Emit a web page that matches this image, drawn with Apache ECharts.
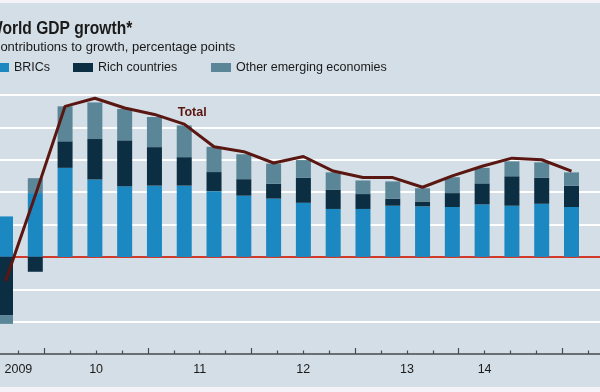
<!DOCTYPE html>
<html>
<head>
<meta charset="utf-8">
<script src="https://cdn.jsdelivr.net/npm/echarts@6/dist/echarts.min.js"></script>
<style>
html,body{margin:0;padding:0;background:#d4dee6;}
#chart{width:600px;height:392px;}
</style>
</head>
<body>
<div id="chart"></div>
<script>
// Quarterly periods as drawn
var categories = ['2009Q1','2009Q2','2009Q3','2009Q4','2010Q1','2010Q2','2010Q3','2010Q4',
  '2011Q1','2011Q2','2011Q3','2011Q4','2012Q1','2012Q2','2012Q3','2012Q4',
  '2013Q1','2013Q2','2013Q3','2013Q4'];
var brics = [1.25, 1.97, 2.75, 2.39, 2.18, 2.2, 2.2, 2.03, 1.89, 1.8, 1.67, 1.48, 1.48, 1.58, 1.56, 1.54, 1.62, 1.58, 1.64, 1.54];
var rich = [-1.81, -0.46, 0.82, 1.25, 1.42, 1.19, 0.88, 0.59, 0.51, 0.46, 0.77, 0.6, 0.46, 0.22, 0.15, 0.43, 0.65, 0.91, 0.8, 0.66];
var otherEm = [-0.26, 0.46, 1.08, 1.13, 0.97, 0.93, 0.98, 0.78, 0.77, 0.62, 0.55, 0.53, 0.42, 0.53, 0.41, 0.49, 0.48, 0.46, 0.48, 0.41];
var total = [-0.75, 1.9, 4.65, 4.9, 4.6, 4.4, 4.1, 3.4, 3.25, 2.9, 3.1, 2.65, 2.45, 2.45, 2.15, 2.5, 2.8, 3.05, 3.0, 2.65];
// Year axis: tick marks at year boundaries and quarters, labels at year centres
var yearTicks = [2010, 2011, 2012, 2013, 2014, 2015];
var quarterTicks = [2009.75, 2010.25, 2010.5, 2010.75, 2011.25, 2011.5, 2011.75, 2012.25, 2012.5, 2012.75,
  2013.25, 2013.5, 2013.75, 2014.25, 2014.5, 2014.75, 2015.25];
var yearLabelPos = [2009.75, 2010.5, 2011.5, 2012.5, 2013.5, 2014.25];
var yearLabelText = ['2009', '10', '11', '12', '13', '14'];

var SANS = '"Liberation Sans", Arial, sans-serif';
var cBrics = '#1b88c2', cRich = '#0c2e42', cOther = '#5b8697', cTotal = '#5a1611';
var BG = '#d4dee6';

var totalData = total.map(function (v, i) {
  if (i === 6) {
    return { value: v, symbol: 'circle', symbolSize: 1, itemStyle: { color: 'rgba(0,0,0,0)' },
      label: { show: true, formatter: 'Total', position: 'top', offset: [8, 0],
        color: cTotal, fontFamily: SANS, fontWeight: 'bold', fontSize: 12.5 } };
  }
  return v;
});

var chart = echarts.init(document.getElementById('chart'), null, { renderer: 'canvas' });
chart.setOption({
  backgroundColor: BG,
  animation: false,
  graphic: [
    { type: 'rect', left: 0, top: 0, shape: { width: 600, height: 3 }, style: { fill: '#f5f3f8' }, z: 100 },
    { type: 'rect', left: 0, top: 387, shape: { width: 600, height: 5 }, style: { fill: '#f5f3f8' }, z: 100 },
    { type: 'text', x: -12, y: 19, scaleX: 0.82, z: 100,
      style: { text: 'World GDP growth*', font: 'bold 19px "Liberation Sans", Arial, sans-serif', fill: '#1a1a1a', textVerticalAlign: 'top' } }
  ],
  title: [
    { text: 'Contributions to growth, percentage points', left: -9, top: 41, padding: 0,
      textStyle: { fontFamily: SANS, fontWeight: 'normal', fontSize: 13, color: '#1a1a1a' } }
  ],
  legend: [
    { data: ['BRICs'], left: -11, top: 61, padding: 0, itemWidth: 20, itemHeight: 9, itemGap: 0,
      icon: 'rect', textStyle: { fontFamily: SANS, fontSize: 12.5, color: '#1a1a1a' } },
    { data: ['Rich countries'], left: 73, top: 61, padding: 0, itemWidth: 20, itemHeight: 9, itemGap: 0,
      icon: 'rect', textStyle: { fontFamily: SANS, fontSize: 12.5, color: '#1a1a1a' } },
    { data: ['Other emerging economies'], left: 211, top: 61, padding: 0, itemWidth: 20, itemHeight: 9, itemGap: 0,
      icon: 'rect', textStyle: { fontFamily: SANS, fontSize: 12.5, color: '#1a1a1a' } }
  ],
  grid: [
    { left: 0, right: 0, top: 95, bottom: 38, containLabel: false },
    { left: 5.5, right: 28.5, top: 95, bottom: 38, containLabel: false }
  ],
  xAxis: [
    { type: 'value', gridIndex: 0, min: 2009.5724, max: 2015.3639, position: 'bottom', z: 10,
      axisLine: { show: true, onZero: false, lineStyle: { color: '#4a4a4a', width: 1.5 } },
      axisTick: { show: true, inside: true, length: 6, customValues: yearTicks, lineStyle: { color: '#4a4a4a', width: 1.2 } },
      axisLabel: { show: true, customValues: yearLabelPos, margin: 9, fontFamily: SANS, fontSize: 12.5, color: '#1a1a1a',
        formatter: function (v) { var i = yearLabelPos.indexOf(v); return i >= 0 ? yearLabelText[i] : ''; } },
      splitLine: { show: false } },
    { type: 'value', gridIndex: 0, min: 2009.5724, max: 2015.3639, position: 'bottom', z: 10,
      axisLine: { show: false, onZero: false },
      axisTick: { show: true, inside: true, length: 3.5, customValues: quarterTicks, lineStyle: { color: '#4a4a4a', width: 1.2 } },
      axisLabel: { show: false },
      splitLine: { show: false } },
    { type: 'category', gridIndex: 1, data: categories, boundaryGap: false, show: false }
  ],
  yAxis: [
    { type: 'value', gridIndex: 0, min: -3, max: 5, interval: 1,
      axisLine: { show: false }, axisTick: { show: false }, axisLabel: { show: false },
      splitLine: { show: true, lineStyle: { width: 2,
        color: [BG, '#ffffff', '#ffffff', '#d23a2a', '#ffffff', '#ffffff', '#ffffff', '#ffffff', '#ffffff'] } } },
    { type: 'value', gridIndex: 1, min: -3, max: 5, interval: 1, show: false, splitLine: { show: false } }
  ],
  series: [
    { name: 'BRICs', type: 'bar', stack: 'g', xAxisIndex: 2, yAxisIndex: 1, barWidth: 15, clip: false, data: brics,
      itemStyle: { color: cBrics } },
    { name: 'Rich countries', type: 'bar', stack: 'g', xAxisIndex: 2, yAxisIndex: 1, barWidth: 15, clip: false, data: rich,
      itemStyle: { color: cRich } },
    { name: 'Other emerging economies', type: 'bar', stack: 'g', xAxisIndex: 2, yAxisIndex: 1, barWidth: 15, clip: false, data: otherEm,
      itemStyle: { color: cOther } },
    { name: 'Total', type: 'line', xAxisIndex: 2, yAxisIndex: 1, data: totalData, symbol: 'none', showSymbol: true, z: 5,
      clip: false, lineStyle: { color: cTotal, width: 3 }, itemStyle: { color: cTotal } }
  ]
});
</script>
</body>
</html>
